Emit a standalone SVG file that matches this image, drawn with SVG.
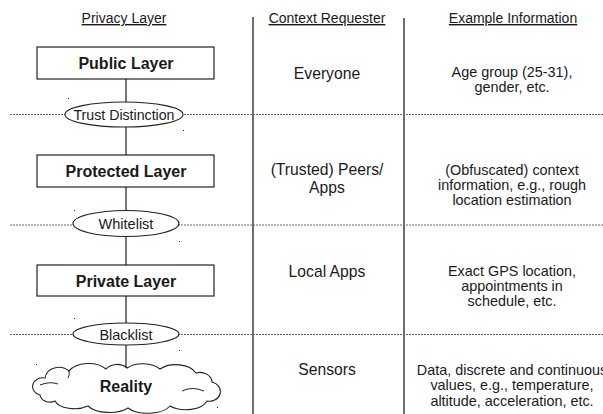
<svg xmlns="http://www.w3.org/2000/svg" width="603" height="414" viewBox="0 0 603 414">
<style>
text{font-family:"Liberation Sans",Arial,sans-serif;fill:#1a1a1a;text-anchor:middle}
.title{font-size:14px;text-decoration:underline}
.layer{font-size:16px;font-weight:bold}
.req{font-size:15.7px}
.info{font-size:14.4px}
.box{fill:#fff;stroke:#222;stroke-width:1.2}
.ell{fill:#fff;stroke:#222;stroke-width:1.1}
.dot{stroke:#666;stroke-width:1;stroke-dasharray:2,1;fill:none}
.sep{stroke:#333;stroke-width:1.4}
.conn{stroke:#555;stroke-width:1.6;fill:none}
.mk{fill:#222}
</style>
<rect width="603" height="414" fill="#fff"/>
<g id="headers">
<text class="title" x="124" y="23">Privacy Layer</text>
<text class="title" x="327" y="23">Context Requester</text>
<text class="title" x="513" y="23">Example Information</text>
</g>
<g id="grid">
<line class="sep" x1="253" y1="17" x2="253" y2="414"/>
<line class="sep" x1="404" y1="18" x2="404" y2="414"/>
<line class="dot" x1="10" y1="114.5" x2="603" y2="114.5"/>
<line class="dot" x1="10" y1="225" x2="603" y2="225"/>
<line class="dot" x1="10" y1="334.5" x2="603" y2="334.5"/>
</g>
<g id="connectors">
<line class="conn" x1="126" y1="79" x2="126" y2="155"/>
<line class="conn" x1="126" y1="187" x2="126" y2="265"/>
<line class="conn" x1="126" y1="296" x2="126" y2="368"/>
</g>
<g id="public">
<rect class="box" x="37" y="47" width="177" height="32"/>
<text class="layer" x="126" y="69">Public Layer</text>
</g>
<g id="trust">
<ellipse class="ell" cx="124" cy="114.5" rx="59" ry="12.5"/>
<text x="124" y="120" font-size="14.8" textLength="101" lengthAdjust="spacingAndGlyphs">Trust Distinction</text>
<rect class="mk" x="68" y="98" width="1" height="1"/>
<rect class="mk" x="183" y="130" width="1" height="1"/>
</g>
<g id="protected">
<rect class="box" x="37" y="155" width="177" height="32"/>
<text class="layer" x="126" y="177">Protected Layer</text>
</g>
<g id="whitelist">
<ellipse class="ell" cx="126" cy="223.5" rx="53" ry="13"/>
<text x="126" y="229" font-size="14.5">Whitelist</text>
<rect class="mk" x="74" y="210" width="1" height="1"/>
<rect class="mk" x="179" y="241" width="1" height="1"/>
</g>
<g id="private">
<rect class="box" x="37" y="265" width="177" height="31"/>
<text class="layer" x="126" y="287">Private Layer</text>
</g>
<g id="blacklist">
<ellipse class="ell" cx="126" cy="334" rx="53" ry="11"/>
<text x="126" y="339.5" font-size="14.5">Blacklist</text>
<rect class="mk" x="74" y="318" width="1" height="1"/>
<rect class="mk" x="179" y="350" width="1" height="1"/>
</g>
<g id="reality">
<path fill="#fff" stroke="#222" stroke-width="1.1" d="M45,378 A14,12 0 0 1 69,371 A22,14 0 0 1 106,369 A14,12 0 0 1 127,368 A22,14 0 0 1 160,369 A22,14 0 0 1 196,373 A12,10 0 0 1 212,382 A10,9 0 0 1 207,401 A22,12 0 0 1 170,406 A24,12 0 0 1 128,408 A24,12 0 0 1 88,406 A20,10 0 0 1 55,401 A10,8 0 0 1 40,395 A9,8 0 0 1 45,378 Z"/>
<path fill="none" stroke="#222" stroke-width="1" d="M40,385 Q50,381 58,384 M182,391 Q192,386 204,391 M69,371 Q70,375 68,378"/>
<text class="layer" x="126" y="392">Reality</text>
<rect class="mk" x="36" y="364" width="1" height="1"/>
<rect class="mk" x="217" y="407" width="1" height="1"/>
</g>
<g id="requesters">
<text class="req" x="327" y="79">Everyone</text>
<text class="req" x="327" y="175">(Trusted) Peers/</text>
<text class="req" x="327" y="193">Apps</text>
<text class="req" x="327" y="277">Local Apps</text>
<text class="req" x="327" y="375">Sensors</text>
</g>
<g id="examples">
<text class="info" x="512" y="77">Age group (25-31),</text>
<text class="info" x="512" y="92">gender, etc.</text>
<text class="info" x="512" y="175">(Obfuscated) context</text>
<text class="info" x="512" y="190">information, e.g., rough</text>
<text class="info" x="512" y="205">location estimation</text>
<text class="info" x="512" y="276">Exact GPS location,</text>
<text class="info" x="512" y="291">appointments in</text>
<text class="info" x="512" y="306">schedule, etc.</text>
<text class="info" x="512" y="375">Data, discrete and continuous</text>
<text class="info" x="512" y="390">values, e.g., temperature,</text>
<text class="info" x="512" y="406">altitude, acceleration, etc.</text>
</g>
</svg>
